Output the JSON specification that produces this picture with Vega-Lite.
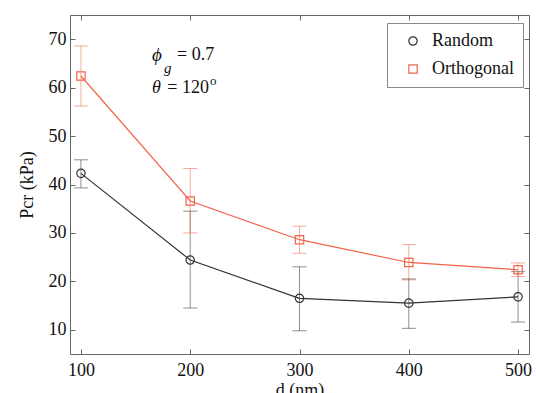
{
  "$schema": "https://vega.github.io/schema/vega-lite/v6.json",
  "width": 459,
  "height": 339,
  "autosize": {"type": "none"},
  "padding": {"left": 70, "top": 15, "right": 7, "bottom": 39},
  "background": "white",
  "config": {
    "view": {"stroke": null},
    "font": "Liberation Serif",
    "axis": {
      "grid": false,
      "domainColor": "#666666",
      "tickColor": "#666666",
      "tickSize": -5,
      "labelFont": "Liberation Serif",
      "labelFontSize": 18,
      "labelColor": "#111111",
      "titleFont": "Liberation Serif",
      "titleFontSize": 18,
      "titleFontWeight": "normal",
      "titleColor": "#111111"
    },
    "legend": {
      "labelFont": "Liberation Serif",
      "labelFontSize": 18,
      "labelColor": "#111111"
    }
  },
  "data": {
    "values": [
      {"series": "Random", "d": 100, "p": 42.3, "lo": 39.3, "hi": 45.1},
      {"series": "Random", "d": 200, "p": 24.4, "lo": 14.5, "hi": 34.5},
      {"series": "Random", "d": 300, "p": 16.5, "lo": 9.8, "hi": 23.0},
      {"series": "Random", "d": 400, "p": 15.5, "lo": 10.3, "hi": 20.5},
      {"series": "Random", "d": 500, "p": 16.8, "lo": 11.6, "hi": 22.0},
      {"series": "Orthogonal", "d": 100, "p": 62.4, "lo": 56.2, "hi": 68.6},
      {"series": "Orthogonal", "d": 200, "p": 36.6, "lo": 30.0, "hi": 43.3},
      {"series": "Orthogonal", "d": 300, "p": 28.6, "lo": 25.8, "hi": 31.4},
      {"series": "Orthogonal", "d": 400, "p": 23.9, "lo": 20.3, "hi": 27.6},
      {"series": "Orthogonal", "d": 500, "p": 22.4, "lo": 21.0, "hi": 23.8}
    ]
  },
  "layer": [
    {
      "layer": [
        {
          "mark": {"type": "rule", "strokeWidth": 1, "opacity": 0.55},
          "encoding": {
            "x": {"field": "d", "type": "quantitative", "scale": {"domain": [90, 510], "nice": false, "zero": false},
                  "axis": {"orient": "bottom", "values": [100, 200, 300, 400, 500], "title": "d (nm)", "labelFont": "Liberation Serif", "titleFont": "Liberation Serif", "labelPadding": 12, "titlePadding": 2}},
            "y": {"field": "lo", "type": "quantitative", "scale": {"domain": [5, 75], "nice": false, "zero": false},
                  "axis": {"orient": "left", "values": [10, 20, 30, 40, 50, 60, 70], "title": "Pcr (kPa)", "labelFont": "Liberation Serif", "titleFont": "Liberation Serif", "labelPadding": 9, "titlePadding": 12}},
            "y2": {"field": "hi"},
            "color": {"condition": {"test": "datum.series === 'Random'", "value": "#333333"}, "value": "#f2644a"}
          }
        },
        {
          "mark": {"type": "tick", "orient": "horizontal", "size": 14, "thickness": 1, "opacity": 0.55},
          "encoding": {
            "x": {"field": "d", "type": "quantitative"},
            "y": {"field": "lo", "type": "quantitative"},
            "color": {"condition": {"test": "datum.series === 'Random'", "value": "#333333"}, "value": "#f2644a"}
          }
        },
        {
          "mark": {"type": "tick", "orient": "horizontal", "size": 14, "thickness": 1, "opacity": 0.55},
          "encoding": {
            "x": {"field": "d", "type": "quantitative"},
            "y": {"field": "hi", "type": "quantitative"},
            "color": {"condition": {"test": "datum.series === 'Random'", "value": "#333333"}, "value": "#f2644a"}
          }
        },
        {
          "mark": {"type": "line", "strokeWidth": 1.2},
          "encoding": {
            "x": {"field": "d", "type": "quantitative"},
            "y": {"field": "p", "type": "quantitative"},
            "detail": {"field": "series", "type": "nominal"},
            "color": {"condition": {"test": "datum.series === 'Random'", "value": "#333333"}, "value": "#f2644a"}
          }
        },
        {
          "mark": {"type": "point", "filled": false, "size": 70, "strokeWidth": 1.2, "opacity": 1},
          "encoding": {
            "x": {"field": "d", "type": "quantitative"},
            "y": {"field": "p", "type": "quantitative"},
            "color": {"field": "series", "type": "nominal", "scale": {"domain": ["Random", "Orthogonal"], "range": ["#333333", "#f2644a"]},
                      "legend": {"title": null, "orient": "none", "legendX": 317, "legendY": 8, "padding": 9, "rowPadding": 10, "strokeColor": "#888888", "fillColor": "white", "symbolSize": 70, "symbolStrokeWidth": 1.2, "symbolOffset": 8, "labelOffset": 10, "labelFont": "Liberation Serif"}},
            "shape": {"field": "series", "type": "nominal", "scale": {"domain": ["Random", "Orthogonal"], "range": ["circle", "square"]}}
          }
        },
        {
          "data": {"values": [{}]},
          "mark": {"type": "text", "text": "ϕ", "fontStyle": "italic", "fontSize": 19, "align": "left", "baseline": "middle", "font": "Liberation Serif", "color": "#111111"},
          "encoding": {"x": {"datum": 165, "type": "quantitative"}, "y": {"datum": 66.7, "type": "quantitative"}}
        },
        {
          "data": {"values": [{}]},
          "mark": {"type": "text", "text": "g", "fontStyle": "italic", "fontSize": 15, "align": "left", "baseline": "middle", "font": "Liberation Serif", "color": "#111111"},
          "encoding": {"x": {"datum": 176, "type": "quantitative"}, "y": {"datum": 64.0, "type": "quantitative"}}
        },
        {
          "data": {"values": [{}]},
          "mark": {"type": "text", "text": "= 0.7", "fontSize": 18, "align": "left", "baseline": "middle", "font": "Liberation Serif", "color": "#111111"},
          "encoding": {"x": {"datum": 188, "type": "quantitative"}, "y": {"datum": 66.7, "type": "quantitative"}}
        },
        {
          "data": {"values": [{}]},
          "mark": {"type": "text", "text": "θ", "fontStyle": "italic", "fontSize": 18, "align": "left", "baseline": "middle", "font": "Liberation Serif", "color": "#111111"},
          "encoding": {"x": {"datum": 165, "type": "quantitative"}, "y": {"datum": 59.9, "type": "quantitative"}}
        },
        {
          "data": {"values": [{}]},
          "mark": {"type": "text", "text": "= 120", "fontSize": 18, "align": "left", "baseline": "middle", "font": "Liberation Serif", "color": "#111111"},
          "encoding": {"x": {"datum": 179, "type": "quantitative"}, "y": {"datum": 59.9, "type": "quantitative"}}
        },
        {
          "data": {"values": [{}]},
          "mark": {"type": "text", "text": "o", "fontSize": 13, "align": "left", "baseline": "middle", "font": "Liberation Serif", "color": "#111111"},
          "encoding": {"x": {"datum": 218, "type": "quantitative"}, "y": {"datum": 61.4, "type": "quantitative"}}
        }
      ]
    },
    {
      "mark": {"type": "point", "opacity": 0},
      "encoding": {
        "x": {"field": "d", "type": "quantitative", "axis": {"orient": "top", "values": [100, 200, 300, 400, 500], "labels": false, "title": null}},
        "y": {"field": "p", "type": "quantitative", "axis": {"orient": "right", "values": [10, 20, 30, 40, 50, 60, 70], "labels": false, "title": null}}
      }
    }
  ],
  "resolve": {"axis": {"x": "independent", "y": "independent"}}
}
